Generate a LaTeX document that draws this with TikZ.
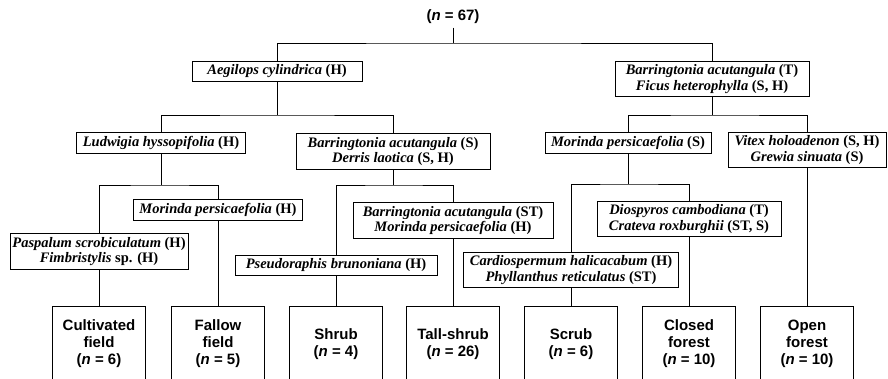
\documentclass[tikz,border=0pt]{standalone}
\usepackage{fontspec}
\setmainfont{Liberation Serif}
\setsansfont{Liberation Sans}
\usepackage{tikz}
\usetikzlibrary{calc}
\tikzstyle{taxon} = [draw=black, fill=white, align=center, line width=.8pt, inner xsep=0pt, inner ysep=3.5pt, font={\fontsize{14.5}{15.5}\selectfont\bfseries}]
\tikzstyle{habitat} = [draw=black, fill=white, align=center, line width=.8pt, minimum width=93, minimum height=76, inner sep=0pt, font={\fontsize{15}{17}\selectfont\sffamily\bfseries}]
\tikzstyle{edge} = [line width=.8pt]
\newcommand{\tx}[1]{\textit{#1}}

\begin{document}
\begin{tikzpicture}[x=1pt, y=-1pt]
  \useasboundingbox (0,0) rectangle (888,378);
  \clip (0,0) rectangle (888,378);

  % root
  \node[at={(453,17)}, font={\fontsize{15}{17}\selectfont\sffamily\bfseries}] (root) {(\textit{n} = 67)};

  % first split
  \node[at={(277,71.5)}, taxon, minimum width=170] (aeg) {\tx{Aegilops cylindrica} (H)};
  \node[at={(712,79)}, taxon, minimum width=194] (barT) {\tx{Barringtonia acutangula} (T)\\ \tx{Ficus heterophylla} (S, H)};

  % second split
  \node[at={(161,143)}, taxon, minimum width=169] (lud) {\tx{Ludwigia hyssopifolia} (H)};
  \node[at={(393,151.5)}, taxon, minimum width=194] (barS) {\tx{Barringtonia acutangula} (S)\\ \tx{Derris laotica} (S, H)};
  \node[at={(628,143)}, taxon, minimum width=166] (morS) {\tx{Morinda persicaefolia} (S)};
  \node[at={(807,150)}, taxon, minimum width=158] (vit) {\tx{Vitex holoadenon} (S, H)\\ \tx{Grewia sinuata} (S)};

  % third split
  \node[at={(218,210)}, taxon, minimum width=169] (morH) {\tx{Morinda persicaefolia} (H)};
  \node[at={(453,220.5)}, taxon, minimum width=200] (barST) {\tx{Barringtonia acutangula} (ST)\\ \tx{Morinda persicaefolia} (H)};
  \node[at={(689,219)}, taxon, minimum width=184] (dio) {\tx{Diospyros cambodiana} (T)\\ \tx{Crateva roxburghii} (ST, S)};

  % fourth split
  \node[at={(99,251.5)}, taxon, minimum width=178] (pas) {\tx{Paspalum scrobiculatum} (H)\\ \tx{Fimbristylis} sp. (H)};
  \node[at={(336,265)}, taxon, minimum width=202] (pse) {\tx{Pseudoraphis brunoniana} (H)};
  \node[at={(571,270)}, taxon, minimum width=215] (car) {\tx{Cardiospermum halicacabum} (H)\\ \tx{Phyllanthus reticulatus} (ST)};

  % habitats
  \node[at={(99,344)}, habitat] (cult) {Cultivated\\ field\\ (\textit{n} = 6)};
  \node[at={(218,344)}, habitat] (fall) {Fallow\\ field\\ (\textit{n} = 5)};
  \node[at={(336,344)}, habitat] (shrub) {Shrub\\ (\textit{n} = 4)};
  \node[at={(453,344)}, habitat] (tall) {Tall-shrub\\ (\textit{n} = 26)};
  \node[at={(571,344)}, habitat] (scrub) {Scrub\\ (\textit{n} = 6)};
  \node[at={(689,344)}, habitat] (closed) {Closed\\ forest\\ (\textit{n} = 10)};
  \node[at={(807,344)}, habitat] (open) {Open\\ forest\\ (\textit{n} = 10)};

  \coordinate (j0) at (453,43);
  \coordinate (j1) at (277,115);
  \coordinate (j2) at (712,115);
  \coordinate (j3) at (161,185);
  \coordinate (j4) at (393,185);
  \coordinate (j5) at (628,184);

  \draw[edge] (root) -- (j0);
  \draw[edge] (aeg) |- (j0) -| (barT);

  \draw[edge] (aeg) -- (j1);
  \draw[edge] (lud) |- (j1) -| (barS);
  \draw[edge] (barT) -- (j2);
  \draw[edge] (morS) |- (j2) -| (vit);

  \draw[edge] (lud) -- (j3);
  \draw[edge] (pas) |- (j3) -| (morH);
  \draw[edge] (barS) -- (j4);
  \draw[edge] (pse) |- (j4) -| (barST);
  \draw[edge] (morS) -- (j5);
  \draw[edge] (car) |- (j5) -| (dio);

  \draw[edge] (pas) -- (cult);
  \draw[edge] (morH) -- (fall);
  \draw[edge] (pse) -- (shrub);
  \draw[edge] (barST) -- (tall);
  \draw[edge] (car) -- (scrub);
  \draw[edge] (dio) -- (closed);
  \draw[edge] (vit) -- (open);
\end{tikzpicture}
\end{document}
